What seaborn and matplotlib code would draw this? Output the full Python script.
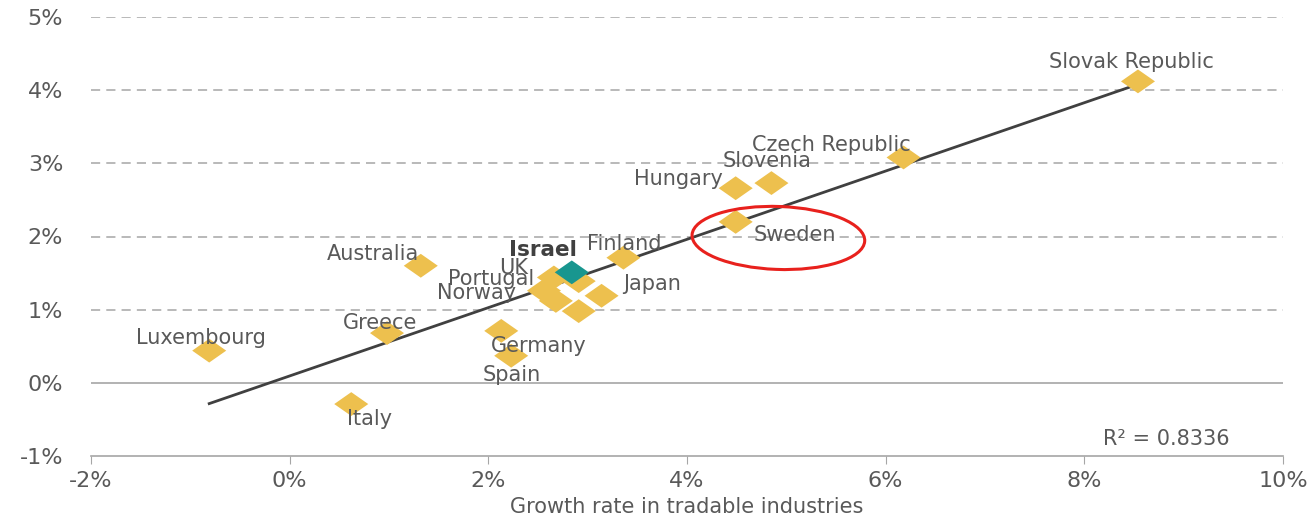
import numpy as np
import pandas as pd
import matplotlib
matplotlib.use("Agg")
import matplotlib.pyplot as plt
from matplotlib.markers import MarkerStyle
from matplotlib.path import Path
from matplotlib.patches import Ellipse
import seaborn as sns

# values (in %)
countries = ["Slovak Republic", "Czech Republic", "Slovenia", "Hungary", "Sweden",
             "Finland", "Japan", "UK", "Portugal", "Norway", "", "",
             "Germany", "Spain", "Greece", "Australia", "Luxembourg", "Italy", "Israel"]
tradable_growth = [8.54, 6.18, 4.85, 4.49, 4.49,
                   3.36, 3.14, 2.66, 2.91, 2.56, 2.68, 2.91,
                   2.13, 2.23, 0.98, 1.32, -0.81, 0.62, 2.84]
other_growth = [4.12, 3.08, 2.73, 2.66, 2.20,
                1.71, 1.19, 1.44, 1.39, 1.26, 1.12, 0.98,
                0.71, 0.37, 0.68, 1.60, 0.44, -0.29, 1.51]
x_ticks = [-2, 0, 2, 4, 6, 8, 10]
y_ticks = [-1, 0, 1, 2, 3, 4, 5]
r2_text = "R² = 0.8336"

# label offsets in pixels (dx, dy) from each point
label_offsets = {
    "Slovak Republic": (-7, 19), "Czech Republic": (-72, 12), "Slovenia": (-4, 22),
    "Hungary": (-57, 9), "Sweden": (59, -13), "Finland": (1, 14), "Japan": (50, 12),
    "UK": (-40, 9), "Portugal": (-88, 2), "Norway": (-67, -2), "Germany": (38, -15),
    "Spain": (1, -19), "Greece": (-7, 10), "Australia": (-48, 12),
    "Luxembourg": (-8, 13), "Italy": (18, -15), "Israel": (-29, 22),
}

df = pd.DataFrame({"country": countries, "x": tradable_growth, "y": other_growth})
df["group"] = np.where(df["country"] == "Israel", "Israel", "OECD")

plt.rcParams["font.family"] = ["DejaVu Sans"]
text_grey = "#595959"
grid_grey = "#A6A6A6"

fig = plt.figure(figsize=(13.14, 5.25), dpi=100)
ax = fig.add_axes([91 / 1314, 1 - 456 / 525, 1192 / 1314, 439 / 525])

# grid lines
for v in y_ticks[2:]:
    ax.axhline(v, color=grid_grey, lw=1.1, ls=(0, (6, 4)), zorder=0)
ax.axhline(0, color=grid_grey, lw=1.2, zorder=0)

sns.regplot(data=df, x="x", y="y", scatter=False, ci=None, ax=ax,
            line_kws=dict(color="#404040", lw=2, zorder=2))

diamond = MarkerStyle(Path([(-1, 0), (0, 0.7), (1, 0), (0, -0.7), (-1, 0)],
                           [Path.MOVETO, Path.LINETO, Path.LINETO, Path.LINETO, Path.CLOSEPOLY]))
sns.scatterplot(data=df, x="x", y="y", hue="group", ax=ax, marker=diamond, s=600,
                palette={"OECD": "#EDC04E", "Israel": "#18968F"}, edgecolor="none",
                linewidth=0, legend=False, zorder=3)

for c, x, y in zip(countries, tradable_growth, other_growth):
    if not c:
        continue
    dx, dy = label_offsets[c]
    bold = c == "Israel"
    ax.annotate(c, (x, y), xytext=(dx, dy), textcoords="offset pixels",
                ha="center", va="center", fontsize=15 if not bold else 15.5,
                fontweight="bold" if bold else "normal",
                color="#404040" if bold else text_grey, zorder=4)

# hand drawn highlight around Sweden
ax.add_patch(Ellipse((4.92, 1.98), 1.74, 0.86, angle=-3, fill=False,
                     edgecolor="#E8211D", lw=2.2, zorder=5))

ax.text(0.902, 0.039, r2_text, transform=ax.transAxes, ha="center", va="center",
        fontsize=15, color=text_grey)

ax.set_xlim(-2, 10)
ax.set_ylim(-1, 5)
ax.set_xticks(x_ticks)
ax.set_xticklabels([f"{t}%" for t in x_ticks])
ax.set_yticks(y_ticks)
ax.set_yticklabels([f"{t}%" for t in y_ticks])
ax.tick_params(axis="x", length=6, color=grid_grey, labelsize=16, labelcolor=text_grey, pad=5)
ax.tick_params(axis="y", length=0, labelsize=16, labelcolor=text_grey, pad=20)
for s in ["top", "right", "left"]:
    ax.spines[s].set_visible(False)
ax.spines["bottom"].set_color(grid_grey)
ax.spines["bottom"].set_linewidth(1.2)
ax.set_xlabel("Growth rate in tradable industries", fontsize=15, color=text_grey, labelpad=4)
ax.set_ylabel("")

fig.savefig("out.png", dpi=100)
